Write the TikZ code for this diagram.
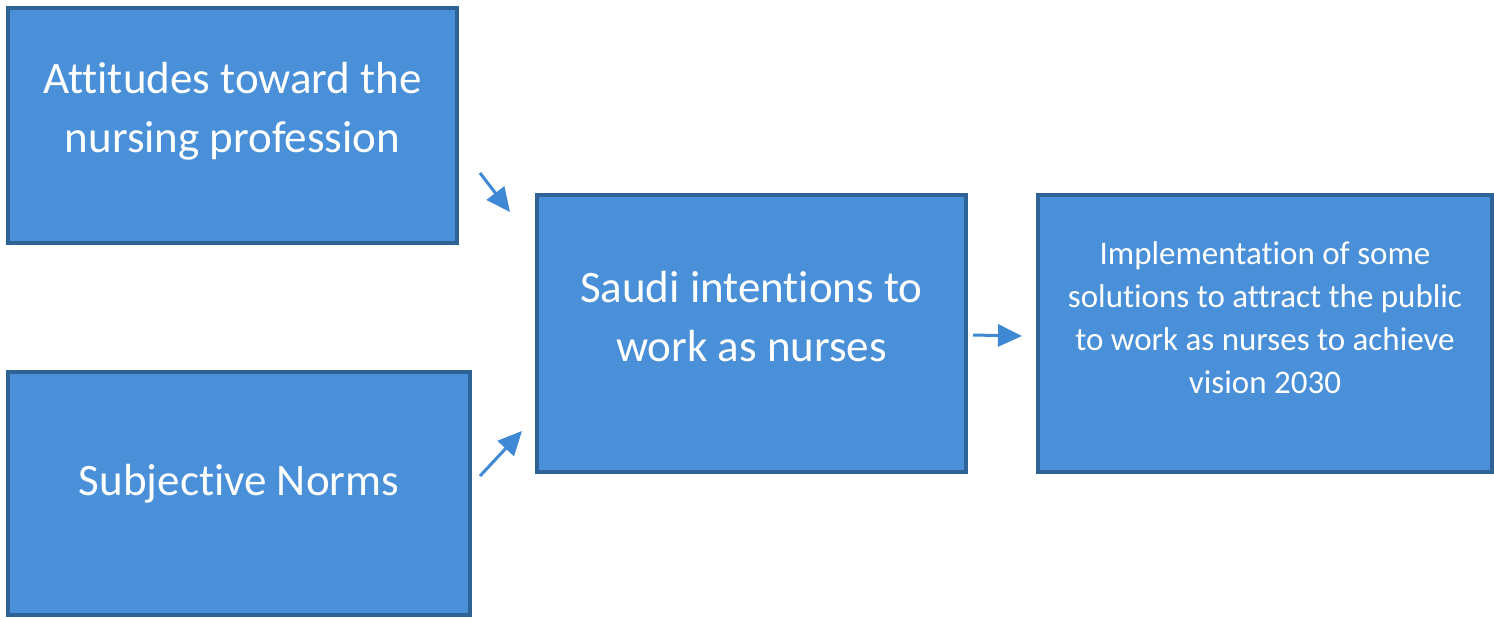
\documentclass[tikz,border=0pt]{standalone}
\usepackage{fontspec}
\setmainfont{Carlito}[Ligatures={NoCommon}]
\usetikzlibrary{arrows.meta}
\definecolor{boxfill}{HTML}{4A90D9}
\definecolor{boxline}{HTML}{2F6396}
\definecolor{arrowc}{HTML}{3E88D4}
\begin{document}
\begin{tikzpicture}[x=1pt,y=-1pt,
  box/.style={draw=boxline,fill=boxfill,line width=4pt,inner sep=0pt},
  big/.style={text=white,align=center,inner sep=0pt,font=\fontsize{45}{59}\selectfont},
  small/.style={text=white,align=center,inner sep=0pt,font=\fontsize{33}{43}\selectfont},
  conn/.style={draw=arrowc,line width=3pt,-{Triangle[length=24pt,width=22pt]}}]
\useasboundingbox (0,0) rectangle (1494,619);
\fill[white] (0,0) rectangle (1494,619);
\node[box,minimum width=449pt,minimum height=235pt] (att) at (232.5,125.5) {};
\node[box,minimum width=462pt,minimum height=243pt] (sub) at (239,493.5) {};
\node[box,minimum width=429pt,minimum height=277pt] (sau) at (751.5,333.5) {};
\node[box,minimum width=454pt,minimum height=277pt] (imp) at (1265,333.5) {};
\node[big] (attT) at ([yshift=14pt]att.center) {Attitudes toward the\\nursing profession};
\node[big] (subT) at ([yshift=10pt]sub.center) {Subjective Norms};
\node[big] (sauT) at ([yshift=17pt]sau.center) {Saudi intentions to\\work as nurses};
\node[small] (impT) at ([yshift=16pt]imp.center) {Implementation of some\\solutions to attract the public\\to work as nurses to achieve\\vision 2030};
\coordinate (a1s) at (480,173);
\coordinate (a1e) at (510,212);
\coordinate (a2s) at (480,476);
\coordinate (a2e) at (522,431);
\coordinate (a3s) at (973,335);
\coordinate (a3e) at (1022,336);
\draw[conn] (a1s) -- (a1e);
\draw[conn] (a2s) -- (a2e);
\draw[conn] (a3s) -- (a3e);
\end{tikzpicture}
\end{document}
